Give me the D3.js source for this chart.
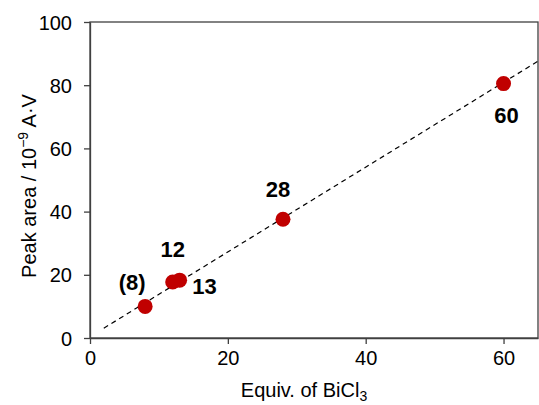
<!DOCTYPE html>
<html>
<head>
<meta charset="utf-8">
<script src="https://cdn.jsdelivr.net/npm/d3@7"></script>
<style>
  body { margin: 0; background: #fff; }
  text { font-family: Arial, "Liberation Sans", sans-serif; }
</style>
</head>
<body>
<div id="chart"></div>
<script>
// data
const equiv = [8, 12, 13, 28, 60];
const peakArea = [10.0, 17.7, 18.3, 37.6, 80.5];
const pointLabels = ["(8)", "12", "13", "28", "60"];
// linear fit (dashed)
const fitX = [2, 65];
const fitY = [3.1, 87.6];
const xTicks = [0, 20, 40, 60];
const yTicks = [0, 20, 40, 60, 80, 100];

// label offsets from each point (px)
const labelOffsets = [[-13, -16], [0, -25], [25, 14], [-5, -22], [3, 39]];

const W = 539, H = 405;
const margin = {top: 22, right: 1, bottom: 67, left: 90};

const svg = d3.select("#chart")
    .append("svg")
    .attr("width", W)
    .attr("height", H);

const x = d3.scaleLinear().domain([0, 65]).range([margin.left, W - margin.right]);
const y = d3.scaleLinear().domain([0, 100]).range([H - margin.bottom, margin.top]);

// frame
svg.append("rect")
    .attr("x", x(0))
    .attr("y", y(100))
    .attr("width", x(65) - x(0))
    .attr("height", y(0) - y(100))
    .attr("fill", "none")
    .attr("stroke", "#404040")
    .attr("stroke-width", 1.3);

// axes
const xAxis = svg.append("g")
    .attr("transform", `translate(0, ${y(0)})`)
    .call(d3.axisBottom(x).tickValues(xTicks).tickSize(6).tickPadding(7).tickSizeOuter(0));
const yAxis = svg.append("g")
    .attr("transform", `translate(${x(0)}, 0)`)
    .call(d3.axisLeft(y).tickValues(yTicks).tickSize(6).tickPadding(12).tickSizeOuter(0));

[xAxis, yAxis].forEach(g => {
    g.select(".domain").attr("stroke", "#404040").attr("stroke-width", 1.3);
    g.selectAll(".tick line").attr("stroke", "#404040").attr("stroke-width", 1.3);
    g.selectAll(".tick text")
        .attr("fill", "#000")
        .style("font-size", "20px")
        .style("font-family", "Arial, 'Liberation Sans', sans-serif");
});
yAxis.selectAll(".tick text").attr("dy", "0.35em");

// fit line
svg.append("path")
    .datum(fitX.map((v, i) => [v, fitY[i]]))
    .attr("fill", "none")
    .attr("stroke", "#000")
    .attr("stroke-width", 1.2)
    .attr("stroke-dasharray", "5,4")
    .attr("d", d3.line().x(d => x(d[0])).y(d => y(d[1])));

// points
const pts = equiv.map((v, i) => ({x: v, y: peakArea[i], label: pointLabels[i], off: labelOffsets[i]}));

svg.selectAll(".pt")
    .data(pts)
    .join("circle")
    .attr("class", "pt")
    .attr("cx", d => x(d.x))
    .attr("cy", d => y(d.y))
    .attr("r", 7.5)
    .attr("fill", "#c00000");

svg.selectAll(".lbl")
    .data(pts)
    .join("text")
    .attr("class", "lbl")
    .attr("x", d => x(d.x) + d.off[0])
    .attr("y", d => y(d.y) + d.off[1])
    .attr("text-anchor", "middle")
    .style("font-size", "22px")
    .style("font-weight", "bold")
    .text(d => d.label);

// axis titles
const xt = svg.append("text")
    .attr("x", 304)
    .attr("y", 397)
    .attr("text-anchor", "middle")
    .style("font-size", "20px");
xt.append("tspan").text("Equiv. of BiCl");
xt.append("tspan").attr("dy", 4).style("font-size", "14px").text("3");

const yt = svg.append("text")
    .attr("transform", "translate(36, 186) rotate(-90)")
    .attr("text-anchor", "middle")
    .style("font-size", "20px");
yt.append("tspan").text("Peak area / 10");
yt.append("tspan").attr("dy", -8).style("font-size", "14px").text("\u22129");
yt.append("tspan").attr("dy", 8).text(" A\u00B7V");
</script>
</body>
</html>
